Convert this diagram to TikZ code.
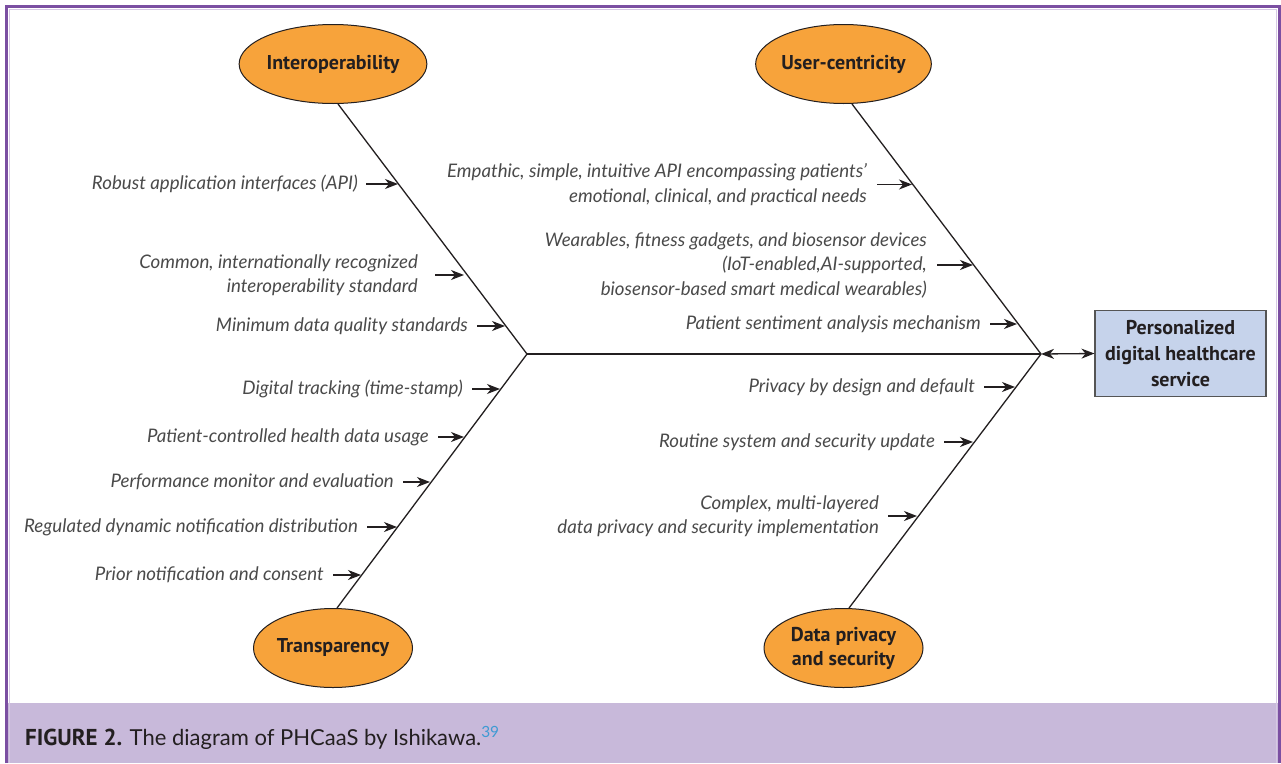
\documentclass[tikz,border=0pt]{standalone}
\usepackage{fontspec}
\setmainfont{Lato}
\newfontfamily\dinfont{PT Sans}
\usetikzlibrary{shapes.geometric,arrows.meta,calc}
\definecolor{purp}{HTML}{7B4FA2}
\definecolor{lav}{HTML}{C8B9DA}
\definecolor{lavline}{HTML}{D6C8E4}
\definecolor{orng}{HTML}{F7A33B}
\definecolor{boxblue}{HTML}{C6D3EB}
\definecolor{boxline}{HTML}{555555}
\definecolor{ink}{HTML}{231F20}
\definecolor{txt}{HTML}{4A4A4A}
\definecolor{refblue}{HTML}{3E9AD3}
\begin{document}
\begin{tikzpicture}[x=1pt,y=-1pt,
  cat/.style={ellipse, draw=ink, line width=1pt, fill=orng, minimum width=159pt, minimum height=79pt, inner sep=0pt, font=\dinfont\bfseries\fontsize{20}{24}\selectfont, text=ink, align=center},
  lbl/.style={anchor=east, font=\itshape\fontsize{18.7}{24.5}\selectfont, text=txt, align=right, inner sep=0pt},
  bone/.style={draw=ink, line width=1.3pt},
  arr/.style={draw=ink, line width=1.3pt, -{Stealth[length=13pt,width=10pt,inset=4pt]}},
  darr/.style={draw=ink, line width=1.3pt, {Stealth[length=13pt,width=10pt,inset=4pt]}-{Stealth[length=13pt,width=10pt,inset=4pt]}},
]
\useasboundingbox (0,0) rectangle (1281,763);
% frame
\fill[white] (0,0) rectangle (1281,763);
\fill[lav] (8,703) rectangle (1278,763);
\draw[lavline, line width=1.2pt] (9.5,763) -- (9.5,9.5) -- (1276.5,9.5) -- (1276.5,763);
\draw[purp, line width=3pt] (6.5,763) -- (6.5,6.5) -- (1279.5,6.5) -- (1279.5,763);

% category ellipses
\node[cat] (interop) at (333,64) {Interoperability};
\node[cat] (user) at (843.5,64) {User-centricity};
\node[cat] (transp) at (333,648) {Transparency};
\node[cat] (privacy) at (843.5,648) {Data privacy\\and security};

% effect box
\node[draw=boxline, line width=1.1pt, fill=boxblue, minimum width=171pt, minimum height=86pt, inner sep=0pt, align=center,
      font=\dinfont\bfseries\fontsize{20}{26}\selectfont, text=ink] (service) at (1180.5,353.5) {Personalized\\digital healthcare\\service};

% spine and bones
\coordinate (jL) at (527,354);
\coordinate (jR) at (1041,354);
\draw[bone] (jL) -- (jR);
\draw[bone] (jL) -- ($(interop.south)+(5,0)$);
\draw[bone] (jL) -- ($(transp.north)+(4,0)$);
\draw[bone] (jR) -- ($(user.south)+(8.5,0)$);
\draw[bone] (jR) -- ($(privacy.north)+(5.5,0)$);
\draw[darr] (jR) -- (service.west);

% left upper causes
\node[lbl] (l1) at (358,184) {Robust application interfaces (API)};
\node[lbl] (l2) at (418,275) {Common, internationally recognized\\interoperability standard};
\node[lbl] (l3) at (468,326) {Minimum data quality standards};
\coordinate (tl1) at (398,184);
\coordinate (tl2) at (464,275);
\coordinate (tl3) at (505,326);
\draw[arr] ([xshift=8pt]l1.east) -- (tl1);
\draw[arr] ([xshift=17pt]l2.east) -- (tl2);
\draw[arr] ([xshift=9pt]l3.east) -- (tl3);

% left lower causes
\node[lbl] (l4) at (463,389) {Digital tracking (time-stamp)};
\node[lbl] (l5) at (429,437) {Patient-controlled health data usage};
\node[lbl] (l6) at (394,482) {Performance monitor and evaluation};
\node[lbl] (l7) at (358,527) {Regulated dynamic notification distribution};
\node[lbl] (l8) at (324,575) {Prior notification and consent};
\coordinate (tl4) at (500,389);
\coordinate (tl5) at (464,437);
\coordinate (tl6) at (430,482);
\coordinate (tl7) at (397,527);
\coordinate (tl8) at (361,575);
\draw[arr] ([xshift=9pt]l4.east) -- (tl4);
\draw[arr] ([xshift=9pt]l5.east) -- (tl5);
\draw[arr] ([xshift=9pt]l6.east) -- (tl6);
\draw[arr] ([xshift=9pt]l7.east) -- (tl7);
\draw[arr] ([xshift=9pt]l8.east) -- (tl8);

% right upper causes
\node[lbl] (r1) at (867,184.5) {Empathic, simple, intuitive API encompassing patients'\\emotional, clinical, and practical needs};
\node[lbl] (r2) at (927,265) {Wearables, fitness gadgets, and biosensor devices\\(IoT-enabled,AI-supported,\\biosensor-based smart medical wearables)};
\node[lbl] (r3) at (981,324) {Patient sentiment analysis mechanism};
\coordinate (tr1) at (912,184.5);
\coordinate (tr2) at (973,265);
\coordinate (tr3) at (1017,324);
\draw[arr] ([xshift=10pt]r1.east) -- (tr1);
\draw[arr] ([xshift=10pt]r2.east) -- (tr2);
\draw[arr] ([xshift=9pt]r3.east) -- (tr3);

% right lower causes
\node[lbl] (r4) at (975,387) {Privacy by design and default};
\node[lbl] (r5) at (935,442) {Routine system and security update};
\node[lbl] (r6) at (879,516) {Complex, multi-layered\\data privacy and security implementation};
\coordinate (tr4) at (1015,387);
\coordinate (tr5) at (973,442);
\coordinate (tr6) at (917,516);
\draw[arr] ([xshift=9pt]r4.east) -- (tr4);
\draw[arr] ([xshift=9pt]r5.east) -- (tr5);
\draw[arr] ([xshift=9pt]r6.east) -- (tr6);

% caption
\node[anchor=base west, inner sep=0pt, font=\fontsize{22}{25}\selectfont, text=ink] (caption) at (25,745)
  {{\dinfont\bfseries\fontsize{23}{25}\selectfont FIGURE 2.} The diagram of PHCaaS by Ishikawa.\textsuperscript{\textcolor{refblue}{39}}};
\end{tikzpicture}
\end{document}
